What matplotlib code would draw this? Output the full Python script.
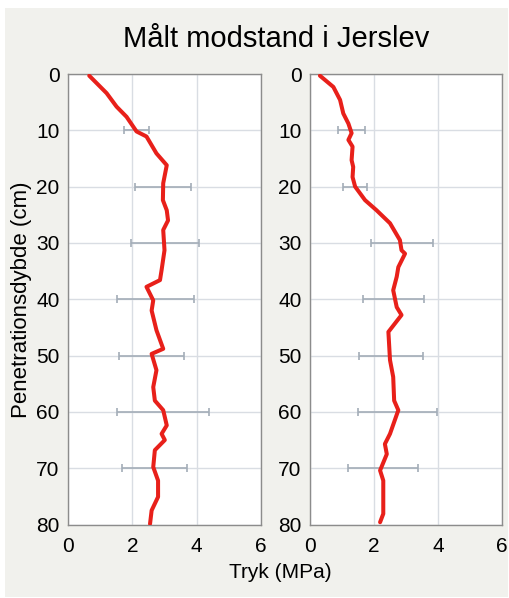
import matplotlib.pyplot as plt
from matplotlib.patches import Rectangle

plt.rcParams['font.family'] = ['Liberation Sans', 'DejaVu Sans']

# left profile: pressure (MPa) vs depth (cm)
left_depth = [0.3, 3.4, 5.8, 7.6, 10.2, 11.1, 14.1, 16.2, 19.4, 22.4, 24.2, 26, 27.7,
              31.3, 34.8, 36.6, 37.8, 40.2, 42, 45.5, 48.8, 49.7, 52.6, 55.6, 58,
              59.7, 62.4, 63.9, 65, 66.8, 69.8, 72.2, 75.1, 77.5, 79.9]
left_tryk = [0.66, 1.2, 1.51, 1.82, 2.13, 2.44, 2.75, 3.07, 2.96, 2.95, 3.07, 3.11, 2.96,
             3.0, 2.91, 2.86, 2.44, 2.65, 2.6, 2.75, 2.96, 2.6, 2.75, 2.65, 2.7,
             2.96, 3.07, 2.91, 3.01, 2.7, 2.65, 2.8, 2.8, 2.6, 2.55]

# right profile
right_depth = [0.3, 2.3, 4.6, 7, 8.8, 10.5, 11.7, 12.9, 15.3, 16.5, 18.3, 20, 22.4,
               24.2, 26.5, 29.5, 31.3, 31.9, 34.3, 36, 38.4, 41.4, 42.8, 45.8, 50.8,
               53.8, 58, 59.7, 63.9, 65.7, 67.5, 70.4, 72.2, 75.8, 78.1, 79.6]
right_tryk = [0.31, 0.73, 0.94, 1.04, 1.2, 1.3, 1.2, 1.33, 1.3, 1.35, 1.33, 1.41, 1.72,
              2.08, 2.5, 2.81, 2.86, 2.97, 2.76, 2.71, 2.6, 2.71, 2.86, 2.45, 2.5,
              2.6, 2.63, 2.76, 2.5, 2.34, 2.4, 2.19, 2.29, 2.29, 2.29, 2.19]

# error bars (low and high ends) every 10 cm
err_depth = [10, 20, 30, 40, 50, 60, 70]
left_err_lo = [1.74, 2.08, 1.95, 1.53, 1.58, 1.53, 1.67]
left_err_hi = [2.52, 3.81, 4.08, 3.91, 3.60, 4.39, 3.69]
right_err_lo = [0.89, 1.04, 1.91, 1.67, 1.52, 1.51, 1.18]
right_err_hi = [1.72, 1.77, 3.83, 3.57, 3.52, 3.98, 3.39]

W, H = 509, 598
fig = plt.figure(figsize=(W / 100, H / 100), dpi=100, facecolor='white')
fig.patches.append(Rectangle((5 / W, 1 / H), 503 / W, 589 / H, transform=fig.transFigure,
                             facecolor='#f1f1ed', edgecolor='none', zorder=-10))

ax1 = fig.add_axes([68 / W, 1 - 524.5 / H, 193 / W, 450.5 / H])
ax2 = fig.add_axes([310 / W, 1 - 524.5 / H, 192 / W, 450.5 / H])

for ax, depth, tryk, lo, hi in [(ax1, left_depth, left_tryk, left_err_lo, left_err_hi),
                                (ax2, right_depth, right_tryk, right_err_lo, right_err_hi)]:
    ax.set_facecolor('white')
    mid = [(a + b) / 2 for a, b in zip(lo, hi)]
    half = [(b - a) / 2 for a, b in zip(lo, hi)]
    ax.errorbar(mid, err_depth, xerr=half, fmt='none', ecolor='#a3adb8',
                elinewidth=1.2, capsize=3, capthick=1.2, zorder=2)
    ax.plot(tryk, depth, color='#e8201a', lw=2.9, solid_capstyle='round',
            solid_joinstyle='round', zorder=3)
    ax.set_xlim(0, 6)
    ax.set_ylim(80, 0)
    ax.set_xticks([0, 2, 4, 6])
    ax.set_yticks(range(0, 81, 10))
    ax.grid(True, color='#d9dde3', lw=1.0, zorder=0)
    ax.set_axisbelow(True)
    for s in ax.spines.values():
        s.set_color('#8c8c8c')
        s.set_linewidth(1.0)
    ax.tick_params(labelsize=15, length=0, pad=6, colors='#8c8c8c', labelcolor='black')
    ax.tick_params(axis='x', pad=9)

ax1.set_ylabel('Penetrationsdybde (cm)', fontsize=16, labelpad=3)
fig.text(280 / W, 1 - 573 / H, 'Tryk (MPa)', fontsize=15, ha='center', va='center')
fig.text(276 / W, 1 - 39 / H, 'Målt modstand i Jerslev', fontsize=21, ha='center', va='center')

fig.savefig('out.png', dpi=100, facecolor=fig.get_facecolor())
